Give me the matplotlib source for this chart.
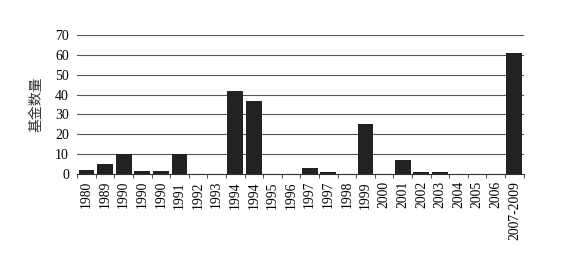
import matplotlib
matplotlib.use("Agg")
import matplotlib.pyplot as plt
import numpy as np

categories = ["1980", "1989", "1990", "1990", "1990", "1991", "1992", "1993", "1994", "1994",
              "1995", "1996", "1997", "1997", "1998", "1999", "2000", "2001", "2002", "2003",
              "2004", "2005", "2006", "2007-2009"]
values = [2, 5, 10, 1.5, 1.5, 10, 0, 0, 42, 37,
          0, 0, 3, 1, 0, 25, 0, 7, 1, 1,
          0, 0, 0, 61]
yticks = [0, 10, 20, 30, 40, 50, 60, 70]

fig = plt.figure(figsize=(5.68, 2.65), dpi=100)
ax = fig.add_axes([0.136, 0.343, 0.786, 0.525])
x = np.arange(len(categories))
ax.set_axisbelow(True)
ax.yaxis.grid(True, color="#555555", linewidth=0.8)
ax.bar(x, values, width=0.85, color="#222222")
ax.set_xlim(-0.5, len(categories) - 0.5)
ax.set_ylim(0, 70)
ax.set_yticks(yticks)
ax.set_yticklabels([str(v) for v in yticks], family="Liberation Serif", fontsize=10)
ax.set_xticks(x)
ax.set_xticklabels(categories, rotation=90, family="Liberation Serif", fontsize=9.8)
ax.tick_params(axis="x", which="major", length=0, pad=5)
ax.set_xticks(np.arange(-0.5, len(categories), 1), minor=True)
ax.tick_params(axis="x", which="minor", length=3, direction="out", color="#333333")
ax.tick_params(axis="y", length=0, pad=6)
for s in ["top", "right", "left"]:
    ax.spines[s].set_visible(False)
ax.spines["bottom"].set_color("#333333")
ax.set_ylabel("基金数量", family=["Noto Sans CJK SC", "DejaVu Sans"], fontsize=10, labelpad=8,
              color="#333333")
fig.savefig("out.png", dpi=100)
